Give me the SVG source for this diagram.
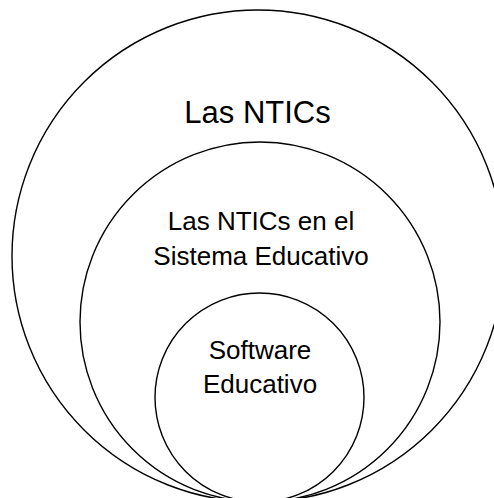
<svg xmlns="http://www.w3.org/2000/svg" width="494" height="498" viewBox="0 0 494 498">
<style>
.c{fill:none;stroke:#000;stroke-width:1.4}
.t{font-family:"Liberation Sans",Arial,sans-serif;fill:#000;text-anchor:middle}
</style>
<rect width="494" height="498" fill="#fff"/>
<g id="outer">
<circle class="c" cx="258" cy="256" r="246"/>
<text class="t" x="257.5" y="123" font-size="31">Las NTICs</text>
</g>
<g id="middle">
<circle class="c" cx="260" cy="322" r="180"/>
<text class="t" x="261" y="230" font-size="26">Las NTICs en el</text>
<text class="t" x="261" y="265" font-size="26">Sistema Educativo</text>
</g>
<g id="inner">
<circle class="c" cx="259.5" cy="397.5" r="104.5"/>
<text class="t" x="260" y="359" font-size="26">Software</text>
<text class="t" x="260" y="393" font-size="26">Educativo</text>
</g>
<g id="connectors"></g>
</svg>
